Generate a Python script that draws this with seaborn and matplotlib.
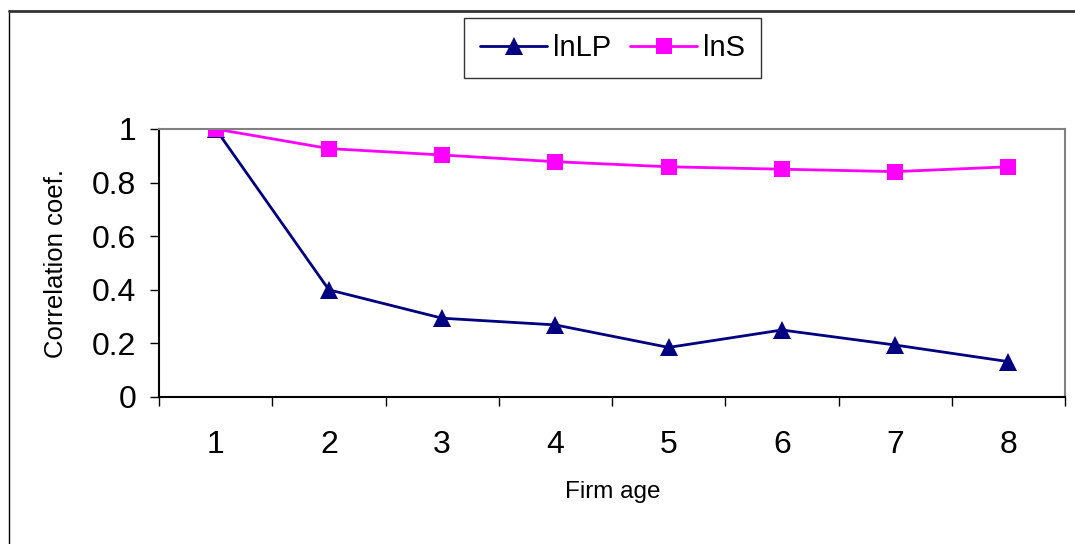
import matplotlib
matplotlib.use("Agg")
import matplotlib.pyplot as plt
import seaborn as sns
from matplotlib.lines import Line2D
from matplotlib.ticker import FixedLocator

# Data
firm_age = [1, 2, 3, 4, 5, 6, 7, 8]
lnLP = [1.00, 0.40, 0.294, 0.269, 0.185, 0.25, 0.194, 0.132]
lnS = [1.00, 0.927, 0.903, 0.878, 0.859, 0.850, 0.841, 0.859]
y_ticks = [0, 0.2, 0.4, 0.6, 0.8, 1]
y_tick_labels = ["0", "0.2", "0.4", "0.6", "0.8", "1"]

sns.set_style("white")
plt.rcParams["font.family"] = ["Liberation Sans", "DejaVu Sans"]
plt.rcParams["text.color"] = "black"
plt.rcParams["axes.labelcolor"] = "black"
plt.rcParams["xtick.color"] = "black"
plt.rcParams["ytick.color"] = "black"

fig = plt.figure(figsize=(10.75, 5.44), dpi=100)
ax = fig.add_axes([159 / 1075, 1 - 397 / 544, 906 / 1075, 268 / 544])

sns.lineplot(x=firm_age, y=lnLP, ax=ax, color="#000080", marker="^",
             markersize=13.5, markeredgewidth=0, linewidth=2, label="lnLP")
sns.lineplot(x=firm_age, y=lnS, ax=ax, color="#FF00FF", marker="s",
             markersize=12, markeredgewidth=0, linewidth=2, label="lnS")

ax.set_xlim(0.5, 8.5)
ax.set_ylim(0, 1)

# category axis: labels at centres, tick marks between categories
ax.set_xticks(firm_age)
ax.set_xticklabels([str(a) for a in firm_age], fontsize=23)
ax.xaxis.set_minor_locator(FixedLocator([a + 0.5 for a in range(0, 9)]))
ax.tick_params(axis="x", which="major", length=0, pad=24)
ax.tick_params(axis="x", which="minor", length=6.5, width=1, color="black",
               direction="out", bottom=True)

ax.set_yticks(y_ticks)
ax.set_yticklabels(y_tick_labels, fontsize=23)
ax.tick_params(axis="y", length=6.5, width=1, color="black", direction="out",
               left=True, pad=10)

ax.spines["left"].set_color("black")
ax.spines["bottom"].set_color("black")
ax.spines["top"].set_color("#808080")
ax.spines["right"].set_color("#808080")
for s in ax.spines.values():
    s.set_linewidth(1.5)
    s.set_visible(True)

ax.set_ylabel("Correlation coef.", fontsize=18.5)
ax.yaxis.set_label_coords((68 - 159) / 906, 0.5)
ax.set_xlabel("Firm age", fontsize=17.5)
ax.xaxis.set_label_coords((613 - 159) / 906, (397 - 481) / 268)

ax.get_legend().remove()
handles, labels = ax.get_legend_handles_labels()
leg = fig.legend(handles, ["lnLP", "lnS"], loc="upper left",
                 bbox_to_anchor=(464 / 1075, 1 - 18 / 544), ncol=2,
                 fontsize=21, frameon=True, fancybox=False, edgecolor="black",
                 handlelength=2.3, handletextpad=0.2, columnspacing=0.65,
                 borderpad=0.55, borderaxespad=0)
leg.get_frame().set_linewidth(1)

# outer chart frame (left and top edges visible)
fig.add_artist(Line2D([9 / 1075, 9 / 1075], [0, 1 - 10 / 544],
                      transform=fig.transFigure, color="black", linewidth=1))
fig.add_artist(Line2D([9 / 1075, 1], [1 - 10.5 / 544, 1 - 10.5 / 544],
                      transform=fig.transFigure, color="#333333", linewidth=2))

fig.savefig("out.png", dpi=100)
